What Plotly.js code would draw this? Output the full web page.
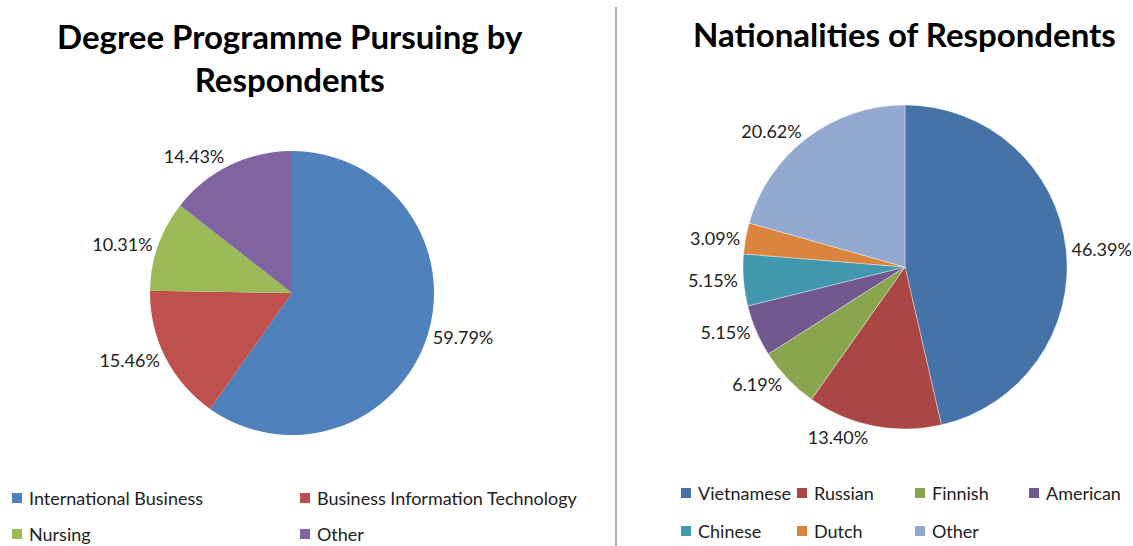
<!DOCTYPE html>
<html>
<head>
<meta charset="utf-8">
<script src="https://cdn.plot.ly/plotly-3.0.1.min.js"></script>
<style>html,body{margin:0;padding:0;background:#fff;}#chart{width:1133px;height:546px;}</style>
</head>
<body>
<div id="chart"></div>
<script>
// ---- data ----
const degreeLabels = ["International Business", "Business Information Technology", "Nursing", "Other"];
const degreeValues = [59.79, 15.46, 10.31, 14.43];
const degreeColors = ["#4F81BD", "#C0504D", "#9BBB59", "#8064A2"];

const nationLabels = ["Vietnamese", "Russian", "Finnish", "American", "Chinese", "Dutch", "Other"];
const nationValues = [46.39, 13.40, 6.19, 5.15, 5.15, 3.09, 20.62];
const nationColors = ["#4572A7", "#AA4643", "#89A54E", "#71588F", "#4198AF", "#DB843D", "#93A9CF"];

const titleLeft = "Degree Programme Pursuing by<br>Respondents";
const titleRight = "Nationalities of Respondents";

// ---- layout helpers ----
const W = 1133, H = 546;
const px = x => x / W;
const py = y => 1 - y / H;
const FONT = "Lato, 'Open Sans', sans-serif";

function pieDomain(cx, cy, r) {
  return { x: [px(cx - r), px(cx + r)], y: [py(cy + r), py(cy - r)] };
}

const traces = [
  {
    type: "pie", labels: degreeLabels, values: degreeValues,
    marker: { colors: degreeColors, line: { width: 0 } },
    sort: false, direction: "clockwise", rotation: 0,
    textposition: "outside", texttemplate: "%{value:.2f}%",
    textfont: { family: FONT, size: 18, color: "#222" },
    domain: pieDomain(292, 293, 142), showlegend: false, hoverinfo: "label+value"
  },
  {
    type: "pie", labels: nationLabels, values: nationValues,
    marker: { colors: nationColors, line: { width: 0.6, color: "rgba(255,255,255,0.6)" } },
    sort: false, direction: "clockwise", rotation: 0,
    textposition: "outside", texttemplate: "%{value:.2f}%",
    textfont: { family: FONT, size: 18, color: "#222" },
    domain: pieDomain(905, 267, 162), showlegend: false, hoverinfo: "label+value"
  }
];

// manual legends (grid layout like the original)
const shapes = [
  { type: "line", xref: "paper", yref: "paper", x0: px(616), x1: px(616), y0: py(7), y1: 0,
    line: { color: "#b0b0b0", width: 2 } }
];
const annotations = [
  { text: "<b>" + titleLeft + "</b>", xref: "paper", yref: "paper", x: px(290), y: py(58),
    xanchor: "center", yanchor: "middle", showarrow: false,
    font: { family: FONT, size: 33, color: "#000" } },
  { text: "<b>" + titleRight + "</b>", xref: "paper", yref: "paper", x: px(905), y: py(34),
    xanchor: "center", yanchor: "middle", showarrow: false,
    font: { family: FONT, size: 33, color: "#000" } }
];

function addLegend(labels, colors, colX, rowY, perRow, fontSize) {
  labels.forEach((lab, i) => {
    const x = colX[i % perRow], y = rowY[Math.floor(i / perRow)];
    shapes.push({ type: "rect", xref: "paper", yref: "paper",
      x0: px(x), x1: px(x + 10), y0: py(y + 5), y1: py(y - 5),
      fillcolor: colors[i], line: { width: 0 } });
    annotations.push({ text: lab, xref: "paper", yref: "paper", x: px(x + 15), y: py(y),
      xanchor: "left", yanchor: "middle", showarrow: false,
      font: { family: FONT, size: fontSize, color: "#222" } });
  });
}
addLegend(degreeLabels, degreeColors, [12, 300], [498, 534], 2, 18);
addLegend(nationLabels, nationColors, [681, 797, 915, 1029], [493, 531], 4, 18);

const layout = {
  width: W, height: H, margin: { l: 0, r: 0, t: 0, b: 0 },
  paper_bgcolor: "#fff", plot_bgcolor: "#fff",
  showlegend: false, shapes, annotations,
  font: { family: FONT }
};
Plotly.newPlot("chart", traces, layout, { displayModeBar: false, staticPlot: true });
</script>
</body>
</html>
